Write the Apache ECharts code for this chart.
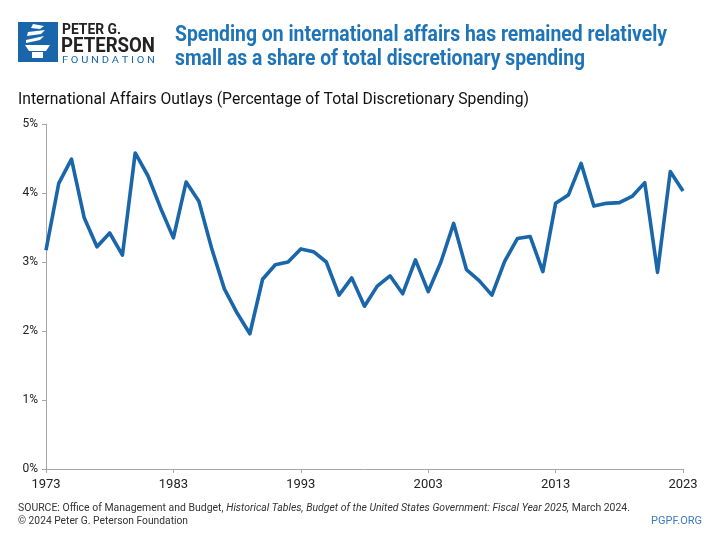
<!DOCTYPE html>
<html>
<head>
<meta charset="utf-8">
<script src="https://cdn.jsdelivr.net/npm/echarts@6/dist/echarts.min.js"></script>
<style>
html,body{margin:0;padding:0;background:#fff;}
#chart{width:720px;height:540px;}
</style>
</head>
<body>
<div id="chart"></div>
<script>
const years = [];
for (let y = 1973; y <= 2023; y++) years.push(String(y));
const outlaysPct = [
  3.17, 4.14, 4.49, 3.64, 3.22, 3.42, 3.10, 4.58, 4.25, 3.78,
  3.35, 4.16, 3.88, 3.20, 2.61, 2.26, 1.96, 2.75, 2.96, 3.00,
  3.19, 3.15, 3.00, 2.52, 2.77, 2.36, 2.65, 2.80, 2.54, 3.03,
  2.57, 3.00, 3.56, 2.89, 2.73, 2.52, 3.01, 3.34, 3.37, 2.86,
  3.85, 3.97, 4.43, 3.81, 3.85, 3.86, 3.95, 4.15, 2.85, 4.31, 4.03
];
const yTicks = [0, 1, 2, 3, 4, 5];

const FONT = "Roboto, 'Noto Sans', sans-serif";
const BLUE = '#1a66ab';

const mctx = document.createElement('canvas').getContext('2d');
function fitScale(text, size, weight, style, target) {
  mctx.font = (style || 'normal') + ' ' + (weight || 'normal') + ' ' + size + 'px ' + FONT;
  return target / mctx.measureText(text).width;
}
function narrow(text, x, y, size, weight, fill, target, extra) {
  const s = fitScale(text, size, weight, 'normal', target);
  return Object.assign({
    type: 'text', x: x, y: y, scaleX: s,
    style: {text: text, x: 0, y: 0, fontSize: size, fontWeight: weight || 'normal', fill: fill,
      fontFamily: FONT, textVerticalAlign: 'top', textAlign: 'left'}
  }, extra || {});
}

const srcA = 'SOURCE: Office of Management and Budget, ';
const srcB = 'Historical Tables, Budget of the United States Government: Fiscal Year 2025,';
const srcC = ' March 2024.';
mctx.font = 'normal normal 11px ' + FONT;
const wA = mctx.measureText(srcA).width, wC = mctx.measureText(srcC).width;
mctx.font = 'italic normal 11px ' + FONT;
const wB = mctx.measureText(srcB).width;
const srcScale = (630 - 18) / (wA + wB + wC);

const chart = echarts.init(document.getElementById('chart'), null, {renderer: 'canvas'});
chart.setOption({
  backgroundColor: '#fff',
  animation: false,
  grid: {left: 46, right: 37, top: 124, bottom: 71, containLabel: false},
  xAxis: {
    type: 'category',
    data: years,
    boundaryGap: false,
    axisLine: {show: true, lineStyle: {color: '#a6a6a6', width: 1}},
    axisTick: {show: true, interval: 9, length: 4, lineStyle: {color: '#a6a6a6'}},
    axisLabel: {interval: 9, color: '#222', fontSize: 13, fontFamily: FONT, margin: 9},
    splitLine: {show: false}
  },
  yAxis: {
    type: 'value',
    min: yTicks[0],
    max: yTicks[yTicks.length - 1],
    interval: 1,
    axisLine: {show: true, lineStyle: {color: '#a6a6a6', width: 1}},
    axisTick: {show: true, length: 4, lineStyle: {color: '#a6a6a6'}},
    axisLabel: {formatter: v => v + '%', color: '#222', fontSize: 12, fontFamily: FONT, margin: 8},
    splitLine: {show: false}
  },
  series: [{
    type: 'line',
    data: outlaysPct,
    symbol: 'none',
    lineStyle: {color: BLUE, width: 3.6, join: 'round'},
    itemStyle: {color: BLUE}
  }],
  graphic: [
    {type: 'rect', shape: {x: 18, y: 22, width: 40, height: 40}, style: {fill: BLUE}},
    {type: 'polygon', shape: {points: [[33,24],[44,26],[40,29],[31,28]]}, style: {fill: '#fff'}},
    {type: 'polygon', shape: {points: [[28,32],[45,30],[41,34],[27,36]]}, style: {fill: '#fff'}},
    {type: 'polygon', shape: {points: [[26,40],[44,36],[40,40],[26,43]]}, style: {fill: '#fff'}},
    {type: 'polygon', shape: {points: [[25,45],[50,45],[46,51],[29,51]]}, style: {fill: '#fff'}},
    {type: 'rect', shape: {x: 32, y: 52, width: 11, height: 6}, style: {fill: '#fff'}},
    narrow('PETER G.', 62, 23, 15, 'bold', '#222', 59),
    narrow('PETERSON', 61, 36, 21, 'bold', '#222', 94),
    narrow('F O U N D A T I O N', 62, 56, 9, 'normal', BLUE, 93),
    narrow('Spending on international affairs has remained relatively', 175, 24, 22, 'bold', '#1f74b8', 492),
    narrow('small as a share of total discretionary spending', 175, 48, 22, 'bold', '#1f74b8', 410),
    narrow('International Affairs Outlays (Percentage of Total Discretionary Spending)', 18, 92, 16, 'normal', '#111', 511),
    {type: 'text', x: 18, y: 503, scaleX: srcScale, style: {x: 0, y: 0, textVerticalAlign: 'top',
      rich: {n: {fontSize: 11, fill: '#333', fontFamily: FONT}, i: {fontSize: 11, fill: '#333', fontStyle: 'italic', fontFamily: FONT}},
      text: '{n|' + srcA + '}{i|' + srcB + '}{n|' + srcC + '}'}},
    narrow('\u00a9 2024 Peter G. Peterson Foundation', 18, 516, 11, 'normal', '#333', 170),
    narrow('PGPF.ORG', 651, 516, 11, 'normal', '#3a7cc0', 51)
  ]
});
</script>
</body>
</html>
